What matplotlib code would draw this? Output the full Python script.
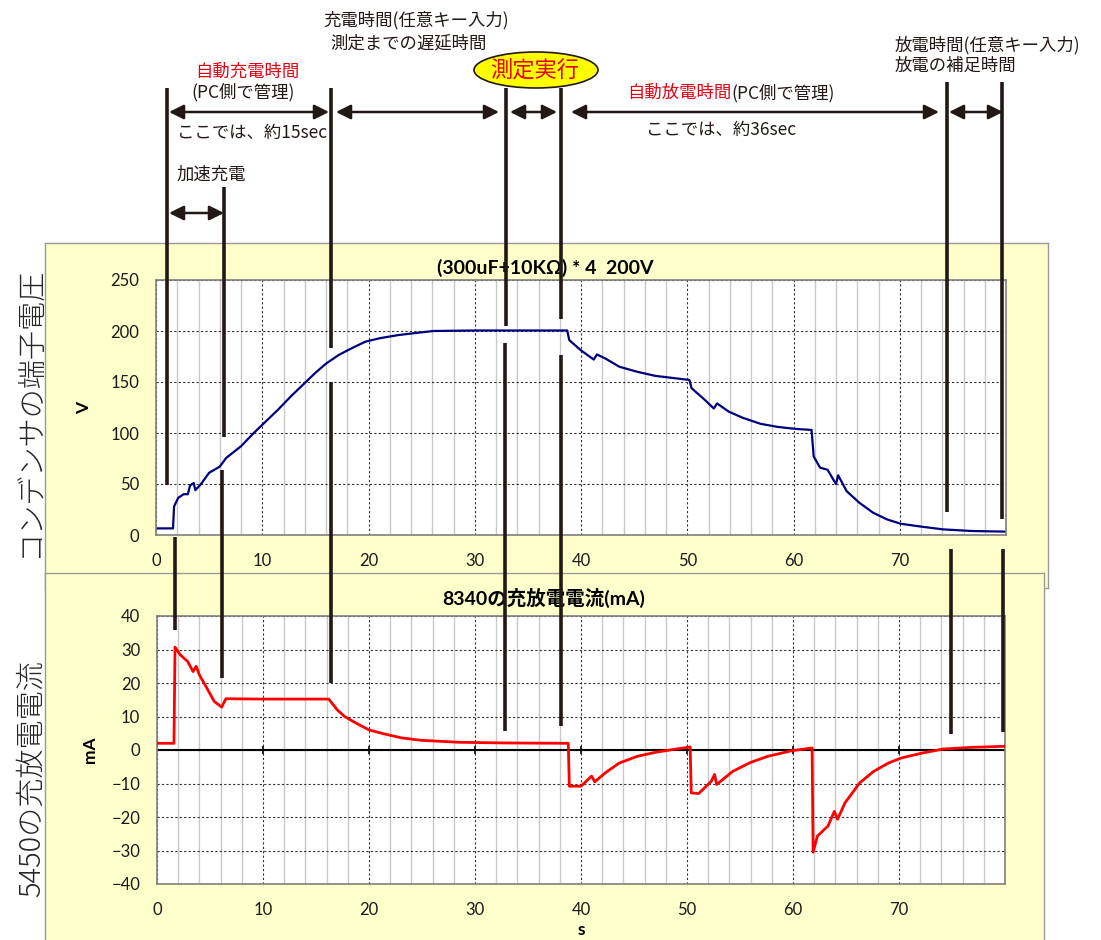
import matplotlib

matplotlib.use("Agg")

import matplotlib.pyplot as plt
from matplotlib.patches import Ellipse

plt.rcParams["font.family"] = ["Lato", "Noto Sans CJK JP", "DejaVu Sans"]
JP = ["Noto Sans CJK JP", "DejaVu Sans"]

# capacitor terminal voltage (V) vs time (s)
volt_t = [0, 1.6, 1.7, 2.1, 2.6, 3.0, 3.2, 3.55, 3.7, 4.2,
          5.0, 6.0, 6.6, 8.0, 9.2, 10.3, 11.5, 12.7, 14.0, 15.0,
          16.0, 17.2, 18.4, 19.7, 21.1, 22.8, 24.4, 26.1, 30, 35,
          38.7, 38.9, 40.0, 41.2, 41.5, 42.3, 43.6, 45.3, 47.0, 48.6,
          50.2, 50.4, 51.6, 52.5, 52.8, 53.9, 55.2, 56.9, 58.5, 60.2,
          61.7, 61.9, 62.5, 63.2, 64.0, 64.2, 65.0, 66.2, 67.5, 68.8,
          70.1, 72.1, 74.1, 76.8, 80.0]
volt_v = [6.5, 6.5, 28, 36.5, 40, 40, 48.5, 51, 44, 49.5,
          61, 67, 75.5, 87, 100, 111, 123, 136, 149, 159,
          168, 176.5, 183, 189.5, 193, 196, 198, 200, 200.5, 200.5,
          200.5, 191, 181, 172, 177, 173, 165, 160, 156, 154,
          152, 144, 133, 124, 129, 121, 115, 109, 106, 104,
          103, 77, 66, 64, 50, 58.6, 43, 31.6, 21.8, 15.3,
          11, 8.1, 5.5, 3.9, 3.3]

# charge/discharge current (mA) vs time (s)
cur_t = [0, 1.6, 1.7, 2.2, 2.9, 3.4, 3.7, 4.0, 4.7, 5.4,
         6.1, 6.5, 10, 16.2, 17.0, 17.7, 18.8, 20.0, 21.3, 23.1,
         24.9, 28.5, 33, 38.8, 38.9, 40.0, 41.0, 41.3, 42.3, 43.6,
         45.3, 47.0, 48.6, 50.3, 50.4, 51.1, 52.3, 52.6, 52.8, 54.3,
         56.0, 57.6, 59.9, 61.8, 61.9, 62.3, 63.3, 63.9, 64.2, 64.9,
         66.3, 67.6, 69.0, 70.2, 72.2, 74.2, 76.9, 80.0]
cur_i = [2.0, 2.0, 30.7, 28.4, 26.4, 23.4, 25, 22.4, 18.5, 14.5,
         12.8, 15.3, 15.2, 15.2, 12, 10, 8, 6, 4.9, 3.6,
         2.9, 2.3, 2.1, 2.0, -10.8, -10.8, -7.8, -9.5, -6.8, -3.9,
         -1.9, -0.7, 0.1, 0.9, -12.8, -13, -9.3, -7.3, -10.3, -6.4,
         -3.7, -1.9, -0.2, 0.6, -30.5, -25.7, -22.7, -18.3, -20.7, -15.8,
         -9.8, -6.4, -3.9, -2.4, -0.9, 0.3, 0.8, 1.1]

volt_ticks = [0, 50, 100, 150, 200, 250]
cur_ticks = [-40, -30, -20, -10, 0, 10, 20, 30, 40]
time_ticks = [0, 10, 20, 30, 40, 50, 60, 70]
minor_ticks = list(range(0, 81, 2))

W, H = 1101, 940
PANEL = "#FFFFCC"
INK = "#231815"
RED = "#E60012"


def px_axes(fig, x0, y0, x1, y1):
    return fig.add_axes([x0 / W, 1 - y1 / H, (x1 - x0) / W, (y1 - y0) / H])


def panel(fig, x0, y0, x1, y1):
    ax = px_axes(fig, x0, y0, x1, y1)
    ax.set_facecolor(PANEL)
    ax.set_xticks([])
    ax.set_yticks([])
    for s in ax.spines.values():
        s.set_color("#9A9A9A")
        s.set_linewidth(1.0)
    return ax


def style_plot(ax, yticks):
    ax.set_xlim(0, 80)
    ax.set_xticks(time_ticks)
    ax.set_xticks(minor_ticks, minor=True)
    ax.set_yticks(yticks)
    ax.set_ylim(yticks[0], yticks[-1])
    ax.grid(which="minor", axis="x", color="#C8C8C8", lw=1.0, ls="-")
    ax.grid(which="major", color="#303030", lw=0.8, ls=(0, (2, 2)))
    ax.set_axisbelow(True)
    ax.tick_params(which="both", length=0, labelsize=12, colors="#1A1A1A")
    ax.tick_params(axis="y", pad=12)
    ax.tick_params(axis="x", pad=13)
    for s in ax.spines.values():
        s.set_color("#7F7F7F")
        s.set_linewidth(1.2)


fig = plt.figure(figsize=(W / 100, H / 100), dpi=100)

# top chart
panel(fig, 45, 243, 1048, 588)
ax1 = px_axes(fig, 156, 280, 1006, 535)
style_plot(ax1, volt_ticks)
ax1.plot(volt_t, volt_v, color="#00007F", lw=1.6)
ax1.text(0.458, 1.047, "(300uF+10KΩ) * 4  200V", transform=ax1.transAxes,
         ha="center", va="center", fontsize=14, fontweight="bold")
ax1.set_ylabel("V", fontsize=12.5, fontweight="bold")
ax1.yaxis.set_label_coords(-0.075, 0.5)
ax1.set_xlabel("s", fontsize=12.5, fontweight="bold", labelpad=0)

# bottom chart
panel(fig, 45, 573, 1044, 950)
ax2 = px_axes(fig, 157, 616, 1005, 884)
style_plot(ax2, cur_ticks)
ax2.axhline(0, color="black", lw=1.5, zorder=2)
ax2.plot(time_ticks[1:], [0] * 7, ls="none", marker="|", ms=6, mew=1.2, color="black", zorder=2)
ax2.plot(cur_t, cur_i, color="#FF0000", lw=2.0, zorder=3)
ax2.text(0.456, 1.067, "8340の充放電電流(mA)", transform=ax2.transAxes,
         ha="center", va="center", fontsize=14, fontweight="bold")
ax2.set_ylabel("mA", fontsize=12.5, fontweight="bold")
ax2.yaxis.set_label_coords(-0.07, 0.5)
ax2.set_xlabel("s", fontsize=12.5, fontweight="bold", labelpad=3)

# big side captions
fig.text(30 / W, 1 - 412 / H, "コンデンサの端子電圧", rotation=90, ha="center", va="center",
         fontsize=21, color="#262626", family=JP, fontweight="light")
fig.text(32 / W, 1 - 779 / H, "5450の充放電電流", rotation=90, ha="center", va="center",
         fontsize=21, color="#262626", family=JP, fontweight="light")

# overlay in pixel coordinates
ov = fig.add_axes([0, 0, 1, 1])
ov.set_xlim(0, W)
ov.set_ylim(H, 0)
ov.axis("off")
ov.patch.set_alpha(0)

marker_upper = [(167, 88, 485), (224, 187, 437), (331, 88, 348), (506, 88, 326),
                (561, 88, 319), (947, 82, 512), (1002, 82, 519)]
marker_lower = [(175, 537, 630), (222, 470, 678), (331, 382, 683), (505, 343, 731),
                (561, 355, 726), (951, 549, 734), (1003, 549, 732)]
for x, y0, y1 in marker_upper + marker_lower:
    ov.plot([x, x], [y0, y1], color=INK, lw=2.6, solid_capstyle="butt")

spans = [(169, 329, 112), (336, 499, 112), (510, 557, 112), (571, 939, 112),
         (949, 1003, 112), (169, 224, 213)]
for x0, x1, y in spans:
    ov.annotate("", xy=(x1, y), xytext=(x0, y),
                arrowprops=dict(arrowstyle="<|-|>", color=INK, lw=1.8,
                                mutation_scale=22, shrinkA=0, shrinkB=0))

kw = dict(family=JP, fontsize=12.5, color=INK, va="center")
ov.text(323, 20, "充電時間(任意キー入力)", ha="left", **kw)
ov.text(330, 43, "測定までの遅延時間", ha="left", **kw)
ov.text(247, 72, "自動充電時間", ha="center", **{**kw, "color": RED})
ov.text(243, 92, "(PC側で管理)", ha="center", **kw)
ov.text(177, 133, "ここでは、約15sec", ha="left", **kw)
ov.text(177, 175, "加速充電", ha="left", **kw)
red = ov.text(627, 93, "自動放電時間", ha="left", **{**kw, "color": RED})
ov.annotate("(PC側で管理)", xy=(1, 0.5), xycoords=red, ha="left", **kw)
ov.text(646, 130, "ここでは、約36sec", ha="left", **kw)
ov.text(895, 45, "放電時間(任意キー入力)", ha="left", **kw)
ov.text(895, 66, "放電の補足時間", ha="left", **kw)

ov.add_patch(Ellipse((536, 70), 124, 36, facecolor="#FFFF00", edgecolor=INK, lw=1.2))
ov.text(535, 70, "測定実行", ha="center", va="center", family=JP, fontsize=16, color=RED)

fig.savefig("out.png", dpi=100)
